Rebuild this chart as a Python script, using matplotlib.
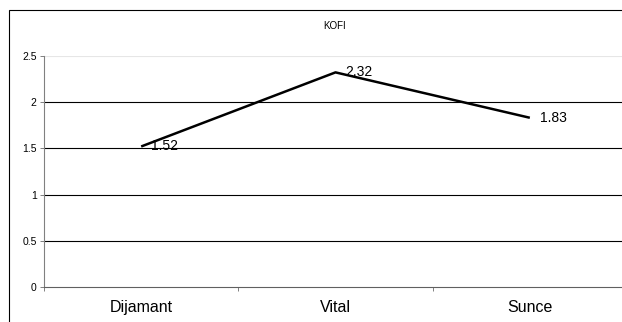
import matplotlib
matplotlib.use("Agg")
import matplotlib.pyplot as plt
from matplotlib.patches import Rectangle
from matplotlib.ticker import FixedLocator, NullFormatter

plt.rcParams['font.family'] = ['Liberation Sans', 'DejaVu Sans']

# Coffee brands and their scores
brands = ["Dijamant", "Vital", "Sunce"]
scores = [1.52, 2.32, 1.83]
y_ticks = [0, 0.5, 1, 1.5, 2, 2.5]
y_tick_labels = ["0", "0.5", "1", "1.5", "2", "2.5"]
title = "KOFI"

W, H = 622, 322
fig = plt.figure(figsize=(W / 100, H / 100), dpi=100)

# Outer chart frame (runs off the right and bottom edges)
fig.patches.append(Rectangle((8.5 / W, -0.1), 1.2, 1 - 10 / H + 0.1,
                             transform=fig.transFigure, fill=False,
                             edgecolor="black", linewidth=0.8))

left, right = 44 / W, 627 / W
bottom, top = 1 - 287.3 / H, 1 - 55.7 / H
ax = fig.add_axes([left, bottom, right - left, top - bottom])

x = list(range(len(brands)))
ax.set_xlim(-0.5, len(brands) - 0.5)
ax.set_ylim(0, 2.5)

# Horizontal gridlines
for v in y_ticks[1:]:
    col = "#e6e6e6" if v == y_ticks[-1] else "black"
    ax.axhline(v, color=col, linewidth=0.8, zorder=1)

ax.plot(x, scores, color="black", linewidth=1.8, zorder=3, solid_capstyle="butt")

for xi, v in zip(x, scores):
    ax.annotate(f"{v:.2f}", (xi, v), xytext=(7, 0), textcoords="offset points",
                ha="left", va="center", fontsize=10, color="black", zorder=4)

# Spines
for s in ("top", "right"):
    ax.spines[s].set_visible(False)
ax.spines["left"].set_color("#808080")
ax.spines["bottom"].set_color("#606060")
ax.spines["left"].set_linewidth(0.8)
ax.spines["bottom"].set_linewidth(0.8)

# Y axis
ax.set_yticks(y_ticks)
ax.set_yticklabels(y_tick_labels, fontsize=7.5)
ax.tick_params(axis="y", direction="out", length=3.2, width=0.7,
               color="#808080", pad=2)

# X axis: ticks at category boundaries, labels at category centres
ax.xaxis.set_major_locator(FixedLocator([i - 0.5 for i in range(len(brands) + 1)]))
ax.xaxis.set_major_formatter(NullFormatter())
ax.tick_params(axis="x", which="major", direction="out", length=3.2, width=0.7,
               color="#808080")
ax.xaxis.set_minor_locator(FixedLocator(x))
ax.set_xticklabels(brands, minor=True, fontsize=11.5)
ax.tick_params(axis="x", which="minor", length=0, pad=9.5)

fig.text(335 / W, 1 - 26 / H, title, ha="center", va="center", fontsize=7)

fig.savefig("out.png", dpi=100)
